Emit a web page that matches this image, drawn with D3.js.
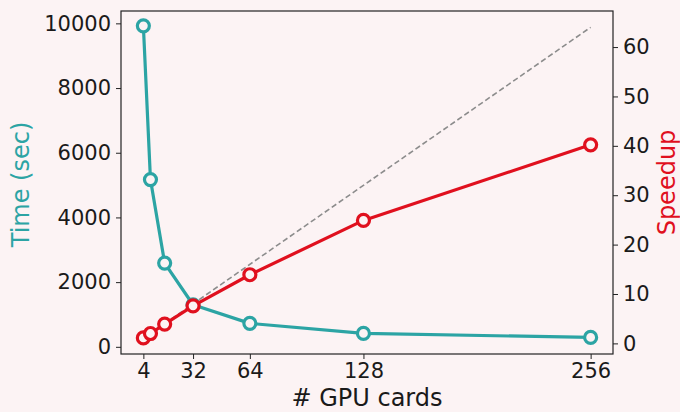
<!DOCTYPE html>
<html>
<head>
<meta charset="utf-8">
<script src="https://cdn.jsdelivr.net/npm/d3@7"></script>
<style>
  html, body { margin: 0; padding: 0; background: #fcf3f4; }
  svg { display: block; }
  text { font-family: "DejaVu Sans", sans-serif; fill: #1a1a1a; }
</style>
</head>
<body>
<svg id="chart" width="680" height="412"></svg>
<script>
// GPU scaling: run time and speedup versus number of GPU cards
const gpuCards = [4, 8, 16, 32, 64, 128, 256];
const timeSec = [9925, 5170, 2590, 1300, 725, 415, 290];
const speedup = [1.1, 2.0, 3.9, 7.6, 13.9, 24.9, 40.2];
const idealCards = [4, 256];
const idealSpeedup = [1, 64];
const xTicks = [4, 32, 64, 128, 256];
const timeTicks = [0, 2000, 4000, 6000, 8000, 10000];
const speedTicks = [0, 10, 20, 30, 40, 50, 60];

const bg = "#fcf3f4";
const teal = "#2ca4a4";
const red = "#e0101e";

const svg = d3.select("#chart");
const plotL = 121, plotR = 613, plotT = 11, plotB = 354;

const x = d3.scaleLinear().domain([-8.6, 268.6]).range([plotL, plotR]);
const yT = d3.scaleLinear().domain([-222, 10382]).range([plotB, plotT]);
const yS = d3.scaleLinear().domain([-2.15, 67.3]).range([plotB, plotT]);

// axes
const fs = 21;
const gx = svg.append("g").attr("transform", `translate(0,${plotB})`)
  .call(d3.axisBottom(x).tickValues(xTicks).tickSize(5).tickPadding(4).tickFormat(d3.format("d")));
const gl = svg.append("g").attr("transform", `translate(${plotL},0)`)
  .call(d3.axisLeft(yT).tickValues(timeTicks).tickSize(5).tickPadding(5).tickFormat(d3.format("d")));
const gr = svg.append("g").attr("transform", `translate(${plotR},0)`)
  .call(d3.axisRight(yS).tickValues(speedTicks).tickSize(5).tickPadding(5).tickFormat(d3.format("d")));
[gx, gl, gr].forEach(g => {
  g.select(".domain").remove();
  g.selectAll(".tick line").attr("stroke", "#222").attr("stroke-width", 1);
  g.selectAll(".tick text").attr("font-size", fs).attr("font-family", "DejaVu Sans").attr("fill", "#1a1a1a");
});

// frame
svg.append("rect").attr("x", plotL).attr("y", plotT)
  .attr("width", plotR - plotL).attr("height", plotB - plotT)
  .attr("fill", "none").attr("stroke", "#222").attr("stroke-width", 1.2);

// time series
const lineT = d3.line().x((d, i) => x(gpuCards[i])).y(d => yT(d));
svg.append("path").datum(timeSec).attr("d", lineT)
  .attr("fill", "none").attr("stroke", teal).attr("stroke-width", 3.2).attr("stroke-linejoin", "round");
svg.append("g").selectAll("circle").data(timeSec).join("circle")
  .attr("cx", (d, i) => x(gpuCards[i])).attr("cy", d => yT(d)).attr("r", 6)
  .attr("fill", bg).attr("stroke", teal).attr("stroke-width", 3.2);

// ideal linear speedup
svg.append("path").datum(idealSpeedup)
  .attr("d", d3.line().x((d, i) => x(idealCards[i])).y(d => yS(d)))
  .attr("fill", "none").attr("stroke", "#8c8c8c").attr("stroke-width", 1.6).attr("stroke-dasharray", "5.5,3");

// measured speedup
const lineS = d3.line().x((d, i) => x(gpuCards[i])).y(d => yS(d));
svg.append("path").datum(speedup).attr("d", lineS)
  .attr("fill", "none").attr("stroke", red).attr("stroke-width", 3.2).attr("stroke-linejoin", "round");
svg.append("g").selectAll("circle").data(speedup).join("circle")
  .attr("cx", (d, i) => x(gpuCards[i])).attr("cy", d => yS(d)).attr("r", 6)
  .attr("fill", bg).attr("stroke", red).attr("stroke-width", 3.2);

// axis titles
svg.append("text").attr("x", (plotL + plotR) / 2).attr("y", 406)
  .attr("text-anchor", "middle").attr("font-size", 24).text("# GPU cards");
svg.append("text").attr("transform", `translate(29,${(plotT + plotB) / 2 + 2}) rotate(-90)`)
  .attr("text-anchor", "middle").attr("font-size", 24).style("fill", teal).text("Time (sec)");
svg.append("text").attr("transform", `translate(675,${(plotT + plotB) / 2}) rotate(-90)`)
  .attr("text-anchor", "middle").attr("font-size", 24).style("fill", red).text("Speedup");
</script>
</body>
</html>
